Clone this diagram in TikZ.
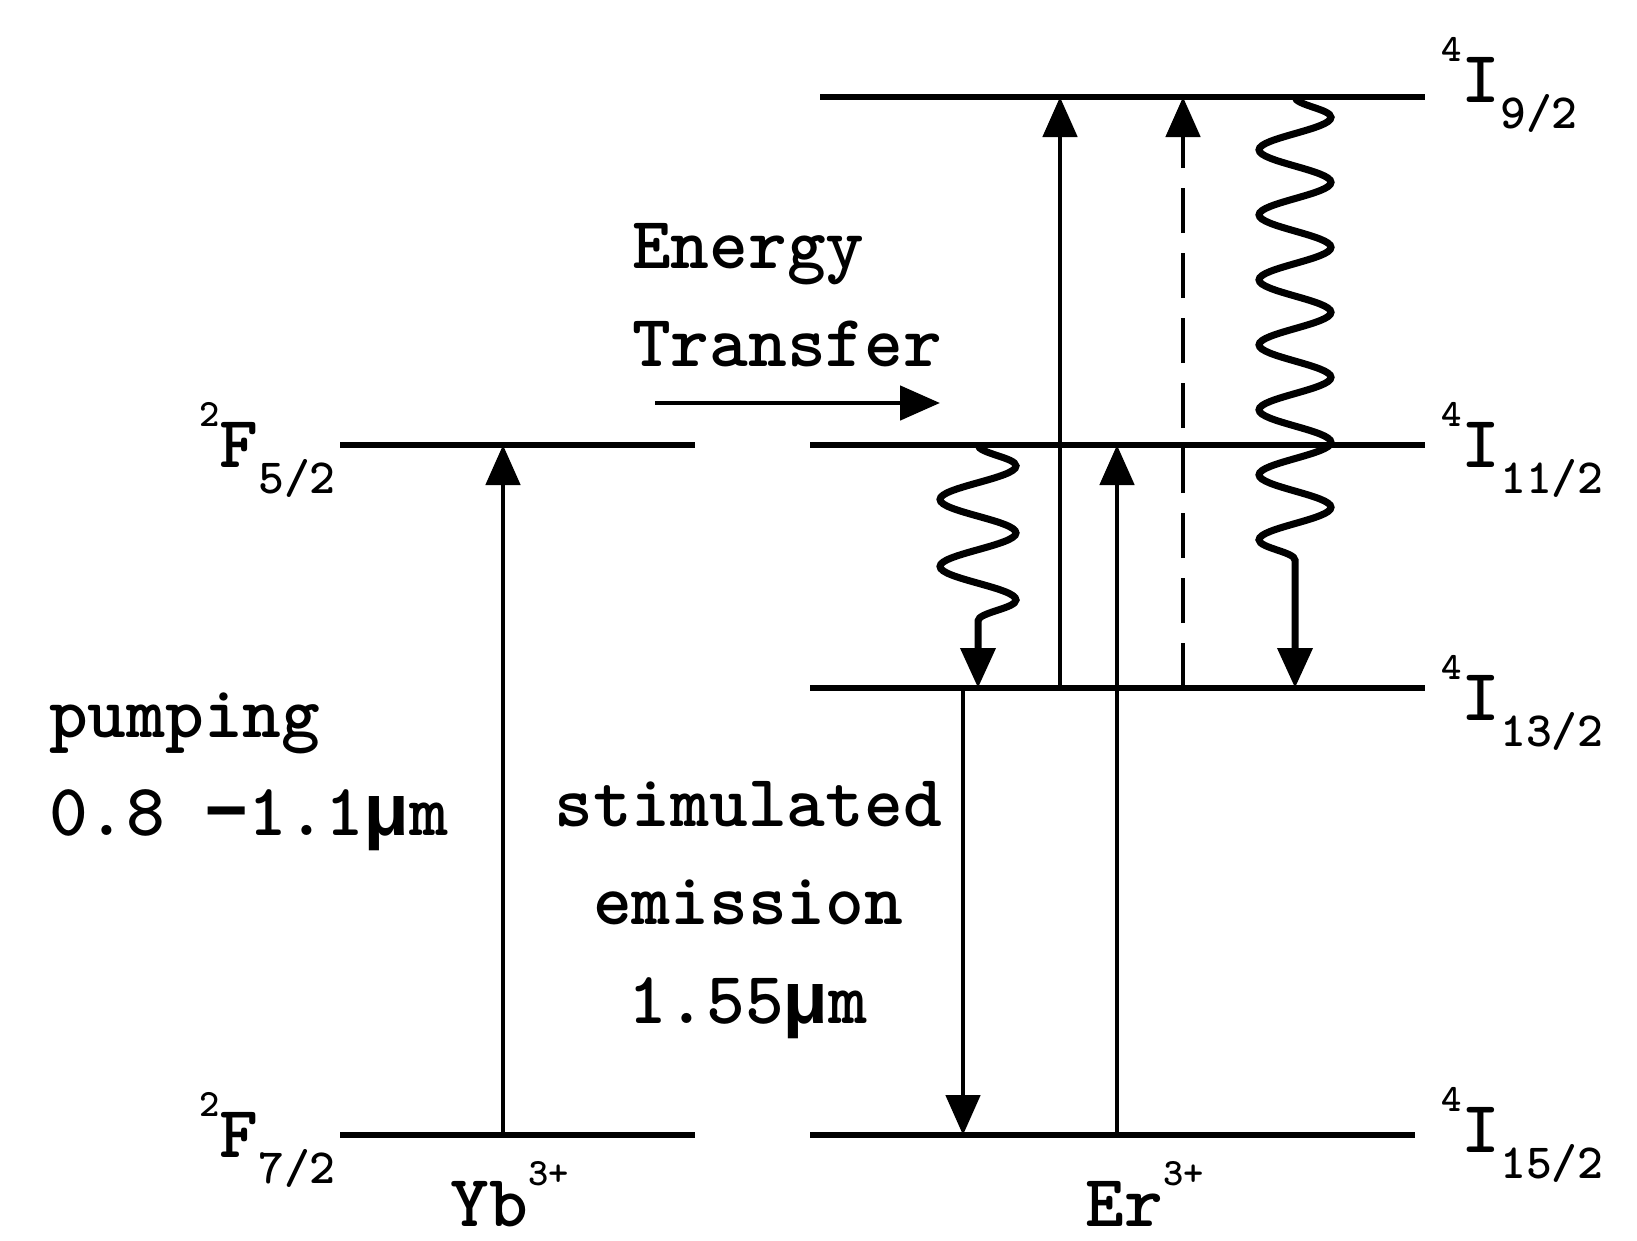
\documentclass[tikz,border=0pt]{standalone}
\usepackage{fontspec}
\newfontfamily\symfont{Liberation Mono}
\usetikzlibrary{arrows.meta,decorations.pathmorphing}
\newcommand{\um}{{\symfont μ}m}
\newcommand{\sups}[1]{\raisebox{0.55em}{\fontsize{11}{11}\selectfont\bfseries #1}}
\newcommand{\subs}[1]{\raisebox{-0.35em}{\fontsize{14}{14}\selectfont\bfseries #1}}

\begin{document}
\begin{tikzpicture}[
    level/.style={line width=1.7pt},
    trans/.style={line width=1.4pt, -{Triangle[length=4mm,width=3.4mm]}},
    wavy/.style={trans, line width=2pt, decorate, decoration={snake, amplitude=3.8mm, segment length=6.7mm, post length=4mm}},
    lbl/.style={font=\fontsize{21}{28}\selectfont\ttfamily\bfseries, inner sep=1pt}
]
    \useasboundingbox (0,0) rectangle (16.37,12.40);
    % Yb levels
    \coordinate (f5l) at (3.40,7.95);
    \coordinate (f5r) at (6.95,7.95);
    \coordinate (f7l) at (3.40,1.05);
    \coordinate (f7r) at (6.95,1.05);
    % Er levels
    \coordinate (i9l) at (8.20,11.43);
    \coordinate (i9r) at (14.25,11.43);
    \coordinate (i11l) at (8.10,7.95);
    \coordinate (i11r) at (14.25,7.95);
    \coordinate (i13l) at (8.10,5.52);
    \coordinate (i13r) at (14.25,5.52);
    \coordinate (i15l) at (8.10,1.05);
    \coordinate (i15r) at (14.15,1.05);
    \draw[level] (f5l) -- (f5r);
    \draw[level] (f7l) -- (f7r);
    \draw[level] (i9l) -- (i9r);
    \draw[level] (i11l) -- (i11r);
    \draw[level] (i13l) -- (i13r);
    \draw[level] (i15l) -- (i15r);

    % level labels
    \node[lbl, anchor=east] (f5lab) at ([yshift=-0.05cm]f5l) {\sups{2}F\subs{5/2}};
    \node[lbl, anchor=east] (f7lab) at ([yshift=-0.05cm]f7l) {\sups{2}F\subs{7/2}};
    \node[lbl, anchor=west] (i9lab) at ([xshift=0.12cm,yshift=0.12cm]i9r) {\sups{4}I\subs{9/2}};
    \node[lbl, anchor=west] (i11lab) at ([xshift=0.12cm,yshift=-0.05cm]i11r) {\sups{4}I\subs{11/2}};
    \node[lbl, anchor=west] (i13lab) at ([xshift=0.12cm,yshift=-0.15cm]i13r) {\sups{4}I\subs{13/2}};
    \node[lbl, anchor=west] (i15lab) at ([xshift=0.22cm,yshift=0.0cm]i15r) {\sups{4}I\subs{15/2}};
    \node[lbl, anchor=base] (yb) at (5.10,0.14) {Yb\sups{3+}};
    \node[lbl, anchor=base] (er) at (11.45,0.14) {Er\sups{3+}};

    % transition ends
    \coordinate (pa) at (5.03,1.05);
    \coordinate (pb) at (5.03,7.95);
    \coordinate (eta) at (6.55,8.37);
    \coordinate (etb) at (9.40,8.37);
    \coordinate (u1a) at (10.60,5.52);
    \coordinate (u1b) at (10.60,11.43);
    \coordinate (u2a) at (11.83,5.52);
    \coordinate (u2b) at (11.83,11.43);
    \coordinate (u3a) at (11.17,1.05);
    \coordinate (u3b) at (11.17,7.95);
    \coordinate (da) at (9.63,5.52);
    \coordinate (db) at (9.63,1.05);
    \coordinate (w1a) at (9.78,7.95);
    \coordinate (w1b) at (9.78,5.52);
    \coordinate (w2a) at (12.95,11.43);
    \coordinate (w2b) at (12.95,5.52);

    \draw[trans] (pa) -- (pb);
    \draw[trans] (eta) -- (etb);
    \draw[trans] (u1a) -- (u1b);
    \draw[trans, dash pattern=on 4.5mm off 2mm] (u2a) -- (u2b);
    \draw[trans] (u3a) -- (u3b);
    \draw[trans] (da) -- (db);
    \draw[wavy] (w1a) -- (w1b);
    \draw[wavy, decoration={segment length=6.5mm, amplitude=3.6mm, post length=12.4mm}] (w2a) -- (w2b);

    % texts
    \node[lbl, anchor=west, align=left] (ettext) at (6.28,9.45) {Energy\\Transfer};
    \node[lbl, anchor=west, align=left] (pump) at (0.45,4.68) {pumping\\0.8 {\symfont −}1.1\um};
    \node[lbl, align=center] (stim) at (7.48,3.30) {stimulated\\emission\\1.55\um};
\end{tikzpicture}
\end{document}
